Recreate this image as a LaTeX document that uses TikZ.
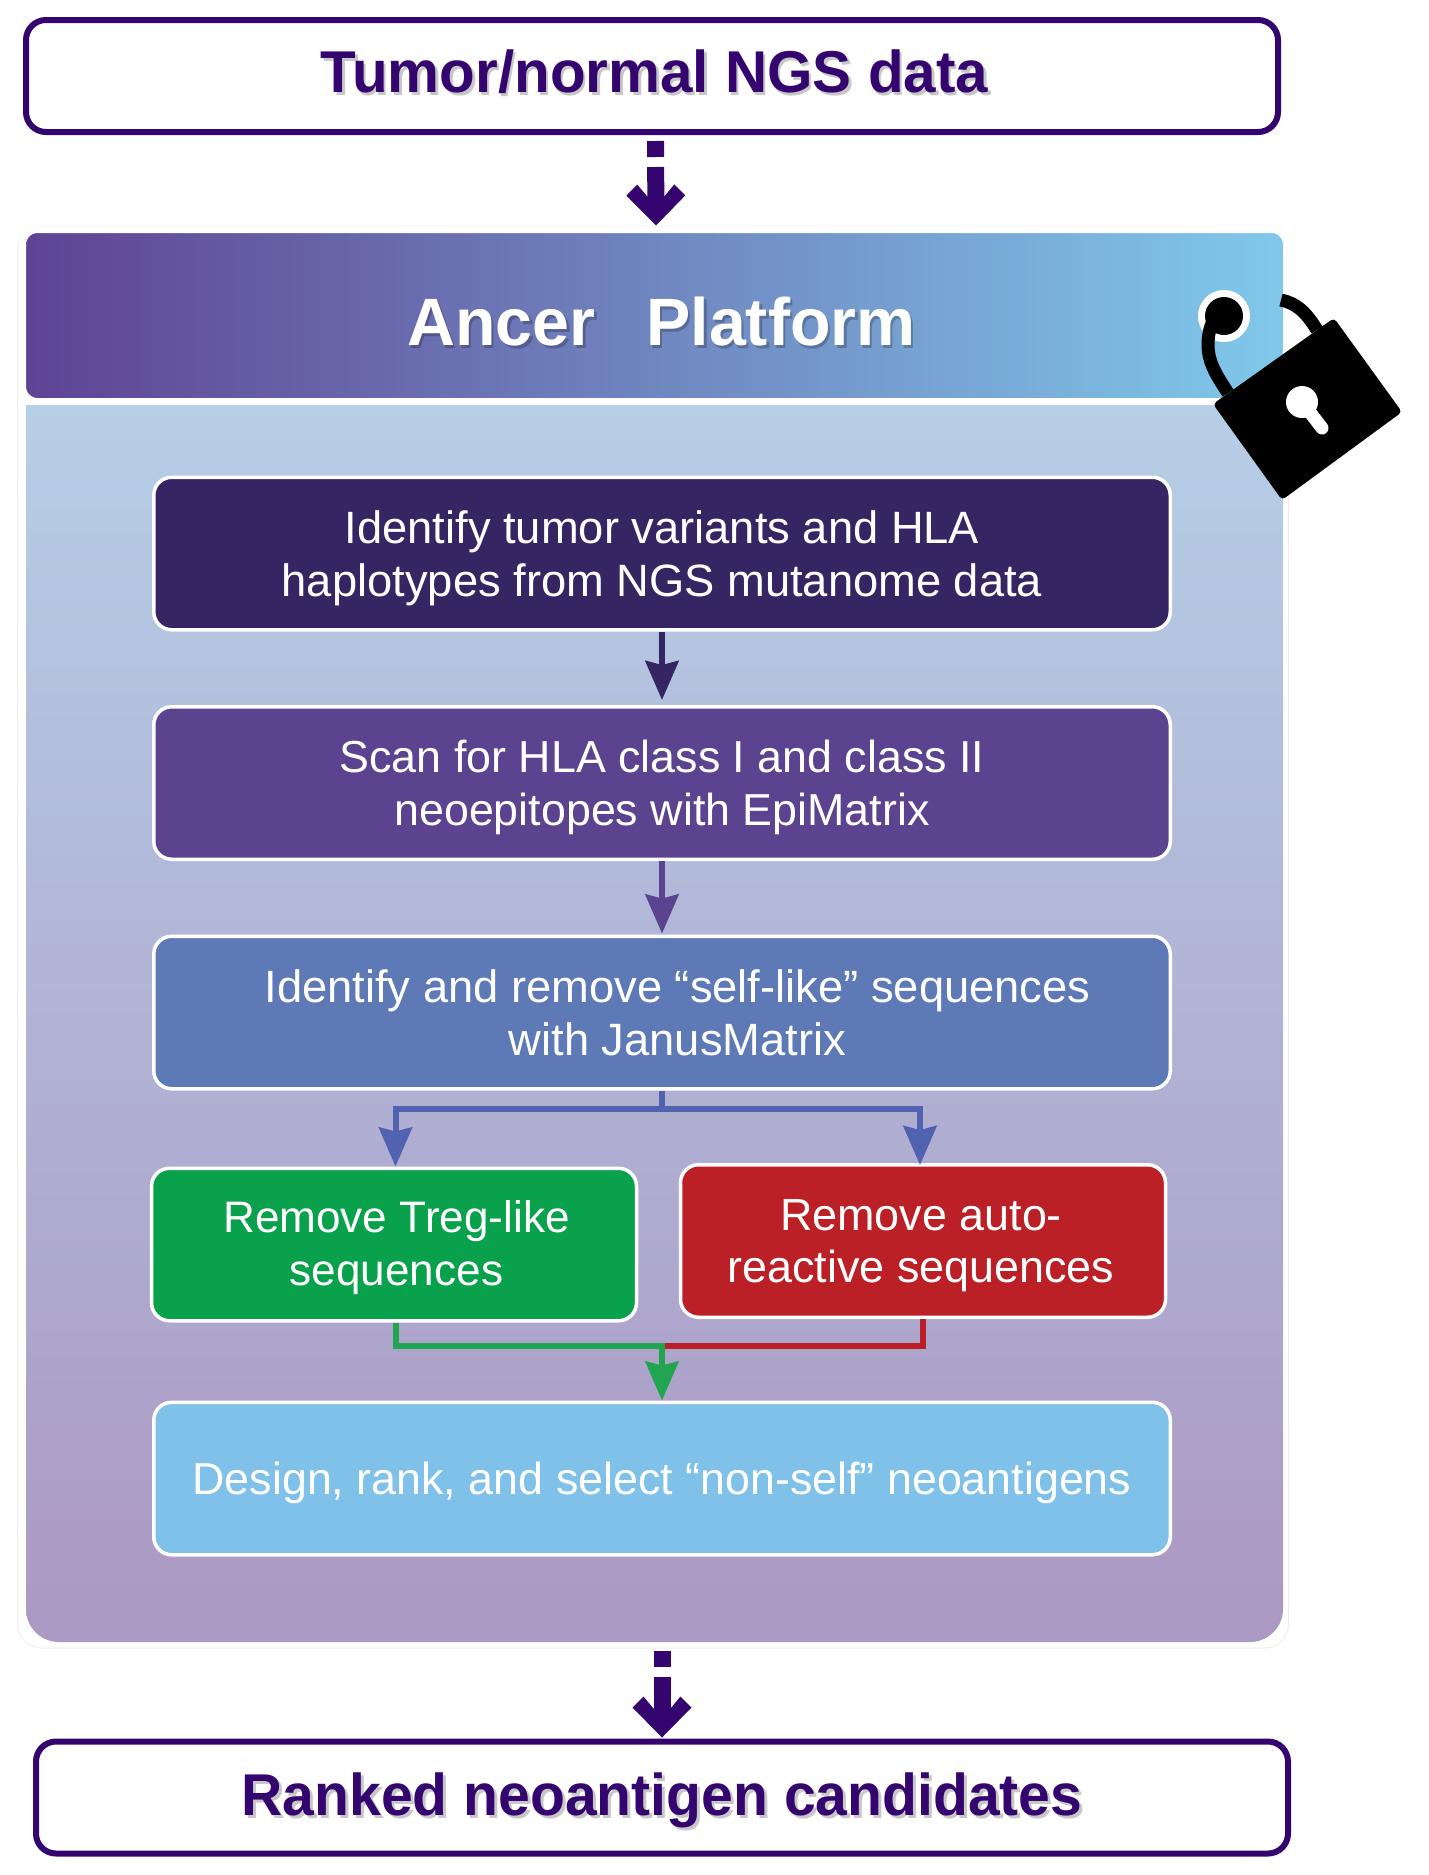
\documentclass[tikz,border=0pt]{standalone}
\usepackage{fontspec}
\setmainfont{Liberation Sans}
\newfontfamily\titleA[FakeStretch=0.99]{Liberation Sans Bold}
\newfontfamily\titleB[FakeStretch=0.968]{Liberation Sans Bold}
\newfontfamily\titleC[FakeStretch=0.99]{Liberation Sans Bold}
\usetikzlibrary{arrows.meta}
\definecolor{deep}{HTML}{35056F}
\definecolor{cbA}{HTML}{352562}
\definecolor{cbB}{HTML}{5B438F}
\definecolor{cbC}{HTML}{5D79B6}
\definecolor{cgreen}{HTML}{0AA14C}
\definecolor{cred}{HTML}{BB2026}
\definecolor{clight}{HTML}{7FC1E8}
\definecolor{hdL}{HTML}{5F4394}
\definecolor{hdR}{HTML}{80C9EB}
\definecolor{bdT}{HTML}{B6CEE6}
\definecolor{bdB}{HTML}{AB98C3}
\definecolor{cblue}{HTML}{5062B0}
\definecolor{clineg}{HTML}{22A550}
\definecolor{cliner}{HTML}{BB2026}
\pgfdeclarearrow{
  name=Barb,
  setup code={\pgfarrowssettipend{0pt}\pgfarrowssetlineend{-28pt}\pgfarrowssetbackend{-41pt}\pgfarrowssetvisualbackend{-28pt}},
  drawing code={
    \pgfpathmoveto{\pgfpoint{0pt}{0pt}}
    \pgfpathlineto{\pgfpoint{-30pt}{29.5pt}}
    \pgfpathlineto{\pgfpoint{-41pt}{18.5pt}}
    \pgfpathlineto{\pgfpoint{-29pt}{8.5pt}}
    \pgfpathlineto{\pgfpoint{-29pt}{-8.5pt}}
    \pgfpathlineto{\pgfpoint{-41pt}{-18.5pt}}
    \pgfpathlineto{\pgfpoint{-30pt}{-29.5pt}}
    \pgfpathclose
    \pgfusepathqfill
  }
}
\tikzset{
  x=1pt,y=-1pt,
  endbox/.style={draw=deep,line width=6pt,fill=white,rounded corners=20pt,minimum width=1252pt,minimum height=112pt,inner sep=0pt},
  titletxt/.style={inner sep=0pt,text=deep},
  shadowtxt/.style={inner sep=0pt,text=black,text opacity=0.22},
  stepbox/.style={draw=white,line width=3.5pt,rounded corners=18pt,minimum width=1016.5pt,minimum height=152.5pt,inner sep=0pt,text=white,align=center,text depth=0pt,font=\fontsize{45.3}{52.5}\selectfont},
  sidebox/.style={stepbox,minimum width=485pt},
  flow/.style={line width=6pt,-{Stealth[length=39pt,width=33pt,inset=4pt]}},
  plain/.style={line width=6pt},
  bigflow/.style={draw=deep,line width=17pt,dash pattern=on 16pt off 10pt on 300pt,-{Barb}},
  lockfill/.style={fill=black},
  shackle/.style={draw=black,line width=13pt}
}
\begin{document}
\begin{tikzpicture}
\useasboundingbox (0,0) rectangle (1429,1875);
\fill[white] (0,0) rectangle (1429,1875);
% outer panel
\node[draw=black!7,line width=1pt,fill=white,rounded corners=24pt,minimum width=1271pt,minimum height=1422pt,inner sep=0pt] (panel) at (653,937) {};
% body
\shade[top color=bdT,bottom color=bdB] (26,405) -- (1283,405) [rounded corners=33pt] -- (1283,1642) -- (26,1642) [sharp corners] -- cycle;
% header
\node[draw=white,line width=7pt,rounded corners=15pt,left color=hdL,right color=hdR,minimum width=1264pt,minimum height=172pt,inner sep=0pt] (header) at (654.5,315.5) {};
% far shackle, cut off by the header edge
\draw[shackle] (1281,300) .. controls (1296,303) and (1306,312) .. (1317,330);
\node[shadowtxt,font=\fontsize{67}{72}\titleC] (headshadow) at (664,325) {Ancer\hspace{51pt}Platform};
\node[inner sep=0pt,text=white,font=\fontsize{67}{72}\titleC] (headtext) at (661.5,321.5) {Ancer\hspace{51pt}Platform};
% end boxes
\node[endbox] (top) at (652,76) {};
\node[shadowtxt,font=\fontsize{59}{64}\titleA] (topshadow) at (657,75) {Tumor/normal NGS data};
\node[titletxt,font=\fontsize{59}{64}\titleA] (toptext) at (654.5,72) {Tumor/normal NGS data};
\node[endbox] (bottom) at (662,1797.5) {};
\node[shadowtxt,font=\fontsize{59}{64}\titleB] (bottomshadow) at (665,1803) {Ranked neoantigen candidates};
\node[titletxt,font=\fontsize{59}{64}\titleB] (bottomtext) at (662,1800) {Ranked neoantigen candidates};
% steps
\node[stepbox,fill=cbA] (s1) at (662,553.5) {Identify tumor variants and HLA\\haplotypes from NGS mutanome data};
\node[stepbox,fill=cbB,font=\fontsize{44.8}{52.5}\selectfont] (s2) at (662,783) {Scan for HLA class I and class II\\neoepitopes with EpiMatrix};
\node[stepbox,fill=cbC] (s3) at (662,1012.5) {\hspace*{31pt}Identify and remove “self-like” sequences\\\hspace*{31pt}with JanusMatrix};
\node[sidebox,fill=cgreen,text depth=3pt,font=\fontsize{44.1}{52.5}\selectfont] (sg) at (394,1244.5) {\hspace*{5pt}Remove Treg-like\\\hspace*{5pt}sequences};
\node[sidebox,fill=cred,font=\fontsize{44.9}{52.5}\selectfont] (sr) at (923,1241) {\hspace*{-4pt}Remove auto-\\[0pt]\hspace*{-4pt}reactive sequences};
\node[stepbox,fill=clight,font=\fontsize{44.8}{52.5}\selectfont] (s4) at (662,1478.5) {Design, rank, and select “non-self” neoantigens};
% connectors
\coordinate (split) at (662,1109);
\coordinate (merge) at (662,1346);
\draw[bigflow] ([shift={(3.5,6)}]top.south) -- ([shift={(3,0)}]panel.north);
\draw[bigflow] ([shift={(9,2)}]panel.south) -- ([shift={(0,-1)}]bottom.north);
\draw[flow,draw=cbA,shorten >=5pt] (s1.south) -- (s2.north);
\draw[flow,draw=cbB,shorten >=1pt] (s2.south) -- (s3.north);
\draw[plain,draw=cblue] (s3.south) -- (split);
\draw[flow,draw=cblue] (split) -| ([xshift=1.5pt]sg.north);
\draw[flow,draw=cblue] (split) -| ([xshift=-3pt,yshift=-2pt]sr.north);
\draw[plain,draw=cliner] (sr.south) |- (merge);
\draw[flow,draw=clineg] ([xshift=1.5pt]sg.south) |- (merge) -- (s4.north);
% lock
\fill[white] (1224,316) circle[radius=26];
\draw[shackle] (1228,393) .. controls (1214,372) and (1208,360) .. (1208,345) .. controls (1208,335) and (1210,325) .. (1216,316);
\fill[lockfill] (1224,316) circle[radius=19];
\fill[lockfill,rounded corners=4pt] (1334,318) -- (1402,412) -- (1282,500) -- (1213,404) -- cycle;
\fill[white] (1302,402) circle[radius=16];
\draw[white,line width=13pt,line cap=round] (1302,402) -- (1322,428);
\end{tikzpicture}
\end{document}
